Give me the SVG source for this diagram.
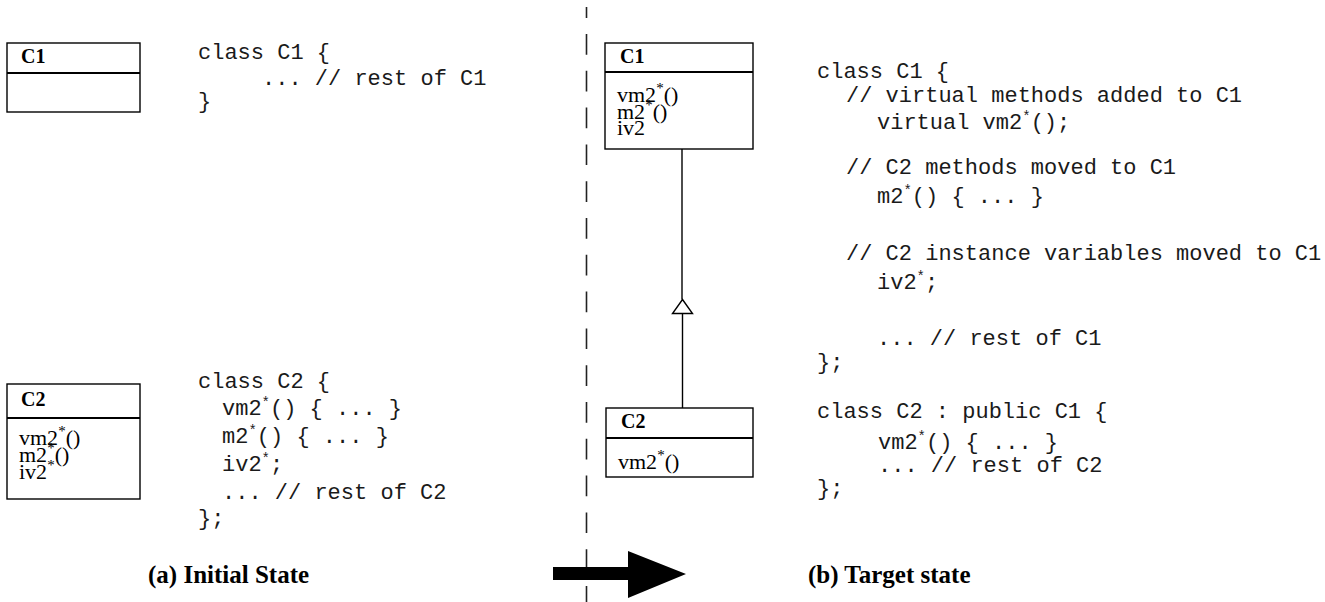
<svg xmlns="http://www.w3.org/2000/svg" width="1325" height="602" viewBox="0 0 1325 602">
  <style>
    .box { fill: #fff; stroke: #000; stroke-width: 1.4; }
    .sep { stroke: #000; stroke-width: 2.2; }
    .title { font-family: "Liberation Serif", "Times New Roman", serif; font-weight: bold; font-size: 20px; fill: #000; }
    .member { font-family: "Liberation Serif", "Times New Roman", serif; font-size: 22px; fill: #000; }
    .code { font-family: "Liberation Mono", "Courier New", monospace; font-size: 22px; fill: #1a1a1a; white-space: pre; }
    .sup { font-size: 14px; }
    .member .sup { font-size: 15px; }
    .caption { font-family: "Liberation Serif", "Times New Roman", serif; font-weight: bold; font-size: 25px; fill: #000; }
    .link { stroke: #000; stroke-width: 1.4; fill: none; }
    .divider { stroke: #222; stroke-width: 1.6; stroke-dasharray: 20.7 16.1; }
  </style>

  <!-- initial state: class C1 -->
  <g id="c1-initial">
    <rect class="box" x="7" y="43" width="133" height="69"/>
    <line class="sep" x1="7" y1="73" x2="140" y2="73"/>
    <text class="title" x="21" y="63">C1</text>
  </g>

  <!-- initial state: class C2 -->
  <g id="c2-initial">
    <rect class="box" x="7" y="384" width="133" height="115"/>
    <line class="sep" x1="7" y1="418" x2="140" y2="418"/>
    <text class="title" x="21" y="406">C2</text>
    <text class="member" x="19" y="445">vm2<tspan class="sup" dy="-9">*</tspan><tspan dy="9">()</tspan></text>
    <text class="member" x="19" y="462">m2<tspan class="sup" dy="-9">*</tspan><tspan dy="9">()</tspan></text>
    <text class="member" x="19" y="479">iv2<tspan class="sup" dy="-9">*</tspan></text>
  </g>

  <!-- initial state: source code -->
  <g id="code-initial">
    <text class="code" xml:space="preserve" x="198" y="59">class C1 {</text>
    <text class="code" xml:space="preserve" x="262" y="85">... // rest of C1</text>
    <text class="code" xml:space="preserve" x="198" y="108">}</text>

    <text class="code" xml:space="preserve" x="198" y="388">class C2 {</text>
    <text class="code" xml:space="preserve" x="222" y="415">vm2<tspan class="sup" dy="-8">*</tspan><tspan dy="8">() { ... }</tspan></text>
    <text class="code" xml:space="preserve" x="222" y="443">m2<tspan class="sup" dy="-8">*</tspan><tspan dy="8">() { ... }</tspan></text>
    <text class="code" xml:space="preserve" x="222" y="471">iv2<tspan class="sup" dy="-8">*</tspan><tspan dy="8">;</tspan></text>
    <text class="code" xml:space="preserve" x="222" y="499">... // rest of C2</text>
    <text class="code" xml:space="preserve" x="198" y="525">};</text>
  </g>

  <!-- target state: class C1 -->
  <g id="c1-target">
    <rect class="box" x="605" y="43" width="148" height="106"/>
    <line class="sep" x1="605" y1="72" x2="753" y2="72"/>
    <text class="title" x="620" y="63">C1</text>
    <text class="member" x="617" y="102">vm2<tspan class="sup" dy="-9">*</tspan><tspan dy="9">()</tspan></text>
    <text class="member" x="617" y="118.5">m2<tspan class="sup" dy="-9">*</tspan><tspan dy="9">()</tspan></text>
    <text class="member" x="617" y="135">iv2</text>
  </g>

  <!-- target state: class C2 -->
  <g id="c2-target">
    <rect class="box" x="606" y="408" width="147" height="69"/>
    <line class="sep" x1="606" y1="438" x2="753" y2="438"/>
    <text class="title" x="621" y="428">C2</text>
    <text class="member" x="618" y="469">vm2<tspan class="sup" dy="-9">*</tspan><tspan dy="9">()</tspan></text>
  </g>

  <!-- generalization C2 -> C1 -->
  <g id="connectors">
    <line class="link" x1="682" y1="149" x2="682" y2="299.5"/>
    <line class="link" x1="682.5" y1="313.5" x2="682.5" y2="408"/>
    <polygon class="link" style="fill:#fff" points="682.5,299.5 692.5,313.5 672.5,313.5"/>
  </g>

  <!-- target state: source code -->
  <g id="code-target">
    <text class="code" xml:space="preserve" x="817" y="78">class C1 {</text>
    <text class="code" xml:space="preserve" x="846" y="102">// virtual methods added to C1</text>
    <text class="code" xml:space="preserve" x="877" y="129">virtual vm2<tspan class="sup" dy="-8">*</tspan><tspan dy="8">();</tspan></text>
    <text class="code" xml:space="preserve" x="846" y="174">// C2 methods moved to C1</text>
    <text class="code" xml:space="preserve" x="877" y="203">m2<tspan class="sup" dy="-8">*</tspan><tspan dy="8">() { ... }</tspan></text>
    <text class="code" xml:space="preserve" x="846" y="260">// C2 instance variables moved to C1</text>
    <text class="code" xml:space="preserve" x="877" y="289">iv2<tspan class="sup" dy="-8">*</tspan><tspan dy="8">;</tspan></text>
    <text class="code" xml:space="preserve" x="877" y="345">... // rest of C1</text>
    <text class="code" xml:space="preserve" x="817" y="369">};</text>

    <text class="code" xml:space="preserve" x="817" y="418">class C2 : public C1 {</text>
    <text class="code" xml:space="preserve" x="878" y="449">vm2<tspan class="sup" dy="-8">*</tspan><tspan dy="8">() { ... }</tspan></text>
    <text class="code" xml:space="preserve" x="878" y="472">... // rest of C2</text>
    <text class="code" xml:space="preserve" x="817" y="495">};</text>
  </g>

  <!-- dashed separator between the two states -->
  <line class="divider" x1="586.5" y1="7" x2="586.5" y2="18"/>
  <line class="divider" x1="586.5" y1="34" x2="586.5" y2="602"/>

  <!-- transition arrow -->
  <polygon points="553,567 628,567 628,551 686,574 628,598 628,580 553,580" fill="#000"/>

  <!-- captions -->
  <text class="caption" x="148" y="583">(a) Initial State</text>
  <text class="caption" x="808" y="583">(b) Target state</text>
</svg>
